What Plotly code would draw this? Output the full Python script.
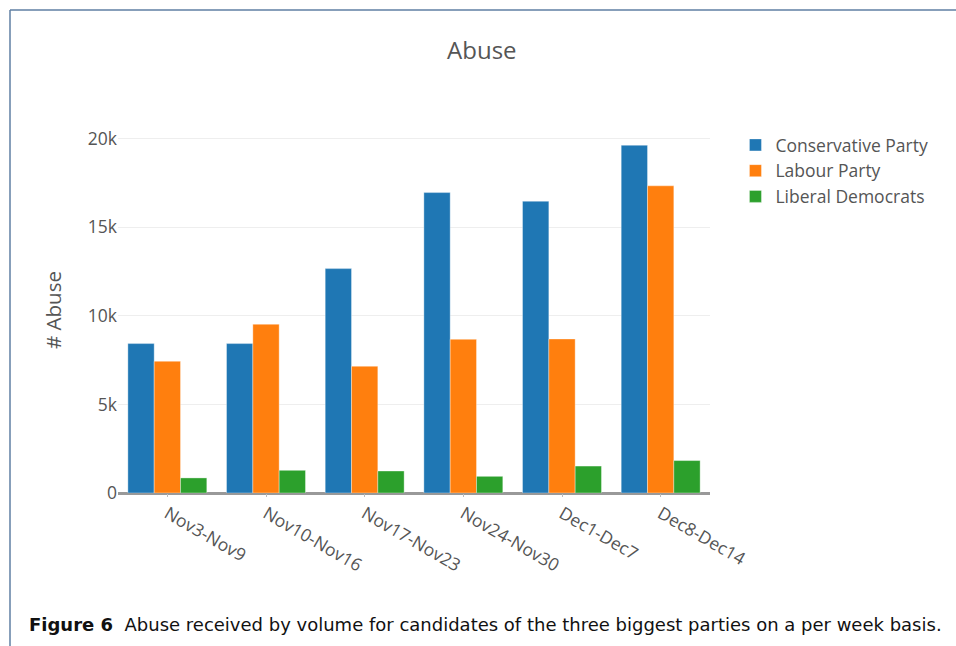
import plotly.graph_objects as go

weeks = ["Nov3-Nov9", "Nov10-Nov16", "Nov17-Nov23", "Nov24-Nov30", "Dec1-Dec7", "Dec8-Dec14"]
conservative = [8430, 8430, 12660, 16950, 16460, 19620]
labour = [7430, 9520, 7150, 8670, 8690, 17330]
libdem = [850, 1280, 1240, 940, 1520, 1830]

series_names = ["Conservative Party", "Labour Party", "Liberal Democrats"]
series_colors = ["#1f77b4", "#ff7f0e", "#2ca02c"]

fig = go.Figure()
for name, vals, col in zip(series_names, [conservative, labour, libdem], series_colors):
    fig.add_trace(go.Bar(x=weeks, y=vals, name=name,
                         marker=dict(color=col, line=dict(color="rgba(255,255,255,0.35)", width=1))))

fig.update_layout(
    width=956, height=646,
    paper_bgcolor="white", plot_bgcolor="white",
    font=dict(family="Open Sans, DejaVu Sans, sans-serif", color="#555", size=17),
    title=dict(text="Abuse", x=0.504, xanchor="center", y=0.922, yanchor="middle",
               font=dict(size=24, color="#555")),
    margin=dict(l=118, r=246, t=127, b=153),
    barmode="group", bargap=0.2,
    legend=dict(x=1.043, y=1.0, xanchor="left", yanchor="top",
                font=dict(size=17.5, color="#555"), tracegroupgap=0),
    xaxis=dict(tickangle=30, tickfont=dict(size=17.5, color="#555"),
               showgrid=False, ticks="outside", ticklen=3, tickcolor="#bbb"),
    yaxis=dict(title=dict(text="# Abuse", font=dict(size=20.5, color="#555"), standoff=20),
               range=[0, 20650], tickvals=[0, 5000, 10000, 15000, 20000],
               ticktext=["0", "5k", "10k", "15k", "20k"],
               tickfont=dict(size=17.5, color="#555"),
               gridcolor="#eee", gridwidth=1.3,
               zeroline=True, zerolinecolor="#999", zerolinewidth=2.5),
    showlegend=True,
)

# figure frame lines
fig.add_shape(type="line", xref="paper", yref="paper",
              x0=-108/592, x1=838/592, y0=(646-153-10)/366, y1=(646-153-10)/366,
              line=dict(color="#5f7fa3", width=1.5))
fig.add_shape(type="line", xref="paper", yref="paper",
              x0=-108/592, x1=-108/592, y0=(646-153-10)/366, y1=-153/366,
              line=dict(color="#5f7fa3", width=1.5))

fig.add_annotation(
    text="<b>Figure 6</b>  Abuse received by volume for candidates of the three biggest parties on a per week basis.",
    xref="paper", yref="paper", x=(27-118)/592, y=(646-153-624)/366,
    xanchor="left", yanchor="middle", showarrow=False,
    font=dict(family="DejaVu Sans", size=18, color="#111"))

fig.write_html("out.html", config={"displayModeBar": False},
               post_script="document.body.style.margin='0';document.body.style.padding='0';")
